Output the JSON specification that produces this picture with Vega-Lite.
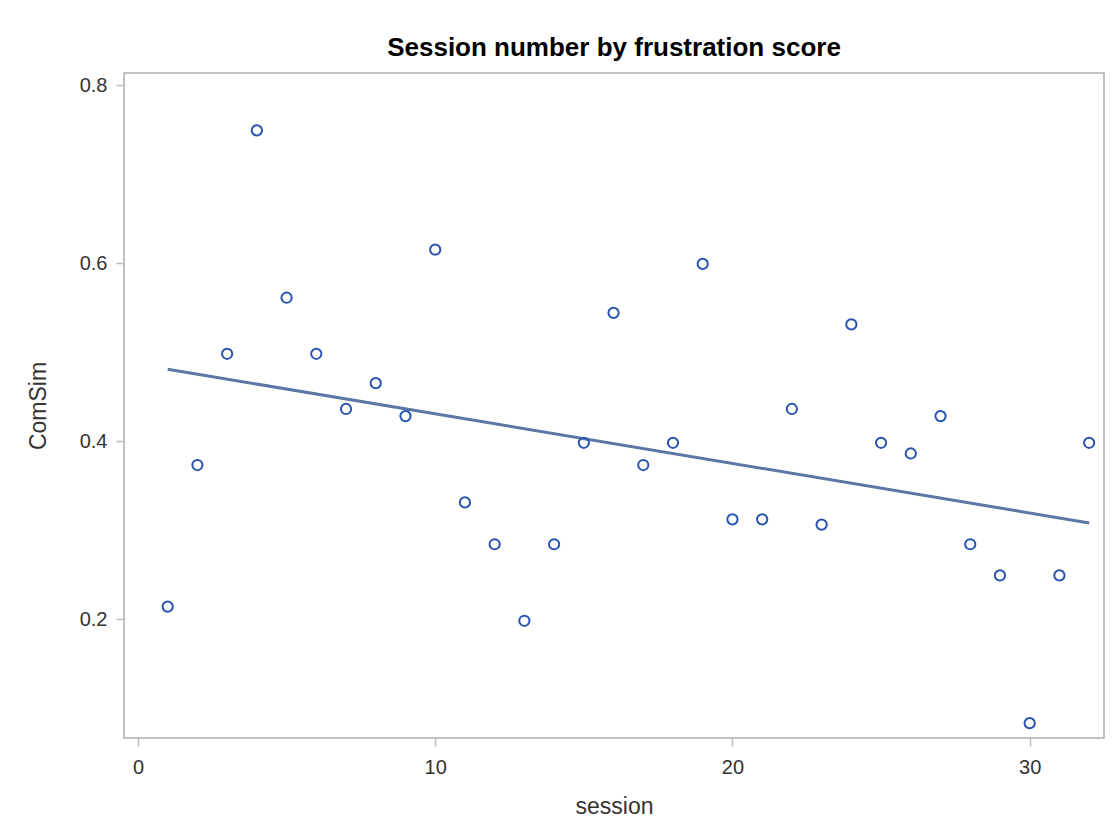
{
  "$schema": "https://vega.github.io/schema/vega-lite/v6.json",
  "width": 980,
  "height": 665,
  "autosize": {"type": "none"},
  "padding": {"left": 124, "top": 73, "right": 11, "bottom": 102},
  "background": "white",
  "title": {"text": "Session number by frustration score", "fontSize": 26, "font": "Liberation Sans", "fontWeight": "bold", "color": "#000000", "anchor": "middle", "offset": 12},
  "config": {
    "view": {"stroke": "#A9ADB2", "strokeWidth": 1.5},
    "axis": {"labelFont": "Liberation Sans", "titleFont": "Liberation Sans", "labelFontSize": 20, "titleFontSize": 23, "labelColor": "#333333", "titleColor": "#333333", "titleFontWeight": "normal", "domain": false, "grid": false, "tickColor": "#B8BCC0", "tickSize": 8, "tickWidth": 1.5}
  },
  "data": {"values": [
    {"session": 1, "ComSim": 0.214},
    {"session": 2, "ComSim": 0.373},
    {"session": 3, "ComSim": 0.498},
    {"session": 4, "ComSim": 0.749},
    {"session": 5, "ComSim": 0.561},
    {"session": 6, "ComSim": 0.498},
    {"session": 7, "ComSim": 0.436},
    {"session": 8, "ComSim": 0.465},
    {"session": 9, "ComSim": 0.428},
    {"session": 10, "ComSim": 0.615},
    {"session": 11, "ComSim": 0.331},
    {"session": 12, "ComSim": 0.284},
    {"session": 13, "ComSim": 0.198},
    {"session": 14, "ComSim": 0.284},
    {"session": 15, "ComSim": 0.398},
    {"session": 16, "ComSim": 0.544},
    {"session": 17, "ComSim": 0.373},
    {"session": 18, "ComSim": 0.398},
    {"session": 19, "ComSim": 0.599},
    {"session": 20, "ComSim": 0.312},
    {"session": 21, "ComSim": 0.312},
    {"session": 22, "ComSim": 0.436},
    {"session": 23, "ComSim": 0.306},
    {"session": 24, "ComSim": 0.531},
    {"session": 25, "ComSim": 0.398},
    {"session": 26, "ComSim": 0.386},
    {"session": 27, "ComSim": 0.428},
    {"session": 28, "ComSim": 0.284},
    {"session": 29, "ComSim": 0.249},
    {"session": 30, "ComSim": 0.083},
    {"session": 31, "ComSim": 0.249},
    {"session": 32, "ComSim": 0.398}
  ]},
  "encoding": {
    "x": {"field": "session", "type": "quantitative", "scale": {"domain": [-0.47, 32.5], "nice": false, "zero": false}, "axis": {"values": [0, 10, 20, 30], "title": "session", "labelPadding": 11, "titlePadding": 18}},
    "y": {"field": "ComSim", "type": "quantitative", "scale": {"domain": [0.0663, 0.8135], "nice": false, "zero": false}, "axis": {"values": [0.2, 0.4, 0.6, 0.8], "format": ".1f", "title": "ComSim", "labelPadding": 9, "titlePadding": 29}}
  },
  "layer": [
    {
      "transform": [{"regression": "ComSim", "on": "session", "method": "linear"}],
      "mark": {"type": "line", "color": "#5B77A3", "strokeWidth": 3, "clip": true}
    },
    {
      "mark": {"type": "point", "shape": "circle", "filled": false, "color": "#2A54B2", "size": 105, "strokeWidth": 2, "opacity": 1}
    }
  ]
}
